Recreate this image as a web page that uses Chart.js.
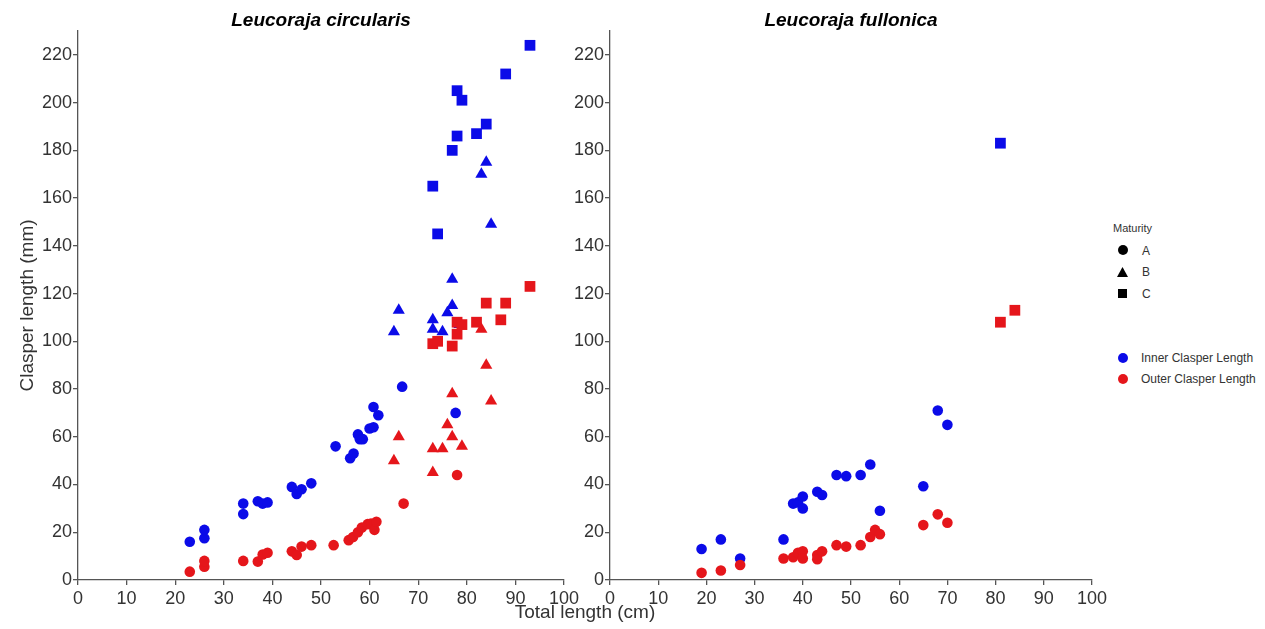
<!DOCTYPE html>
<html>
<head>
<meta charset="utf-8">
<script src="https://cdn.jsdelivr.net/npm/chart.js@4"></script>
<style>
body{margin:0;background:#fff;font-family:"Liberation Sans",Arial,sans-serif;}
#page{position:relative;width:1265px;height:629px;overflow:hidden;background:#fff;}
.box{position:absolute;top:0;height:629px;}
#boxLeft{left:0;width:585px;}
#boxRight{left:530px;width:580px;}
.lab{position:absolute;color:#333;white-space:nowrap;}
.mk{position:absolute;}
</style>
</head>
<body>
<div id="page">
  <div class="box" id="boxLeft"><canvas id="chartLeft"></canvas></div>
  <div class="box" id="boxRight"><canvas id="chartRight"></canvas></div>

  <div class="lab" style="left:585px;top:602px;font-size:19px;line-height:20px;transform:translateX(-50%);">Total length (cm)</div>

  <div class="lab" style="left:1113px;top:221px;font-size:11px;line-height:14px;">Maturity</div>
  <div class="mk" style="left:1118px;top:245px;width:10px;height:10px;border-radius:50%;background:#000;"></div>
  <div class="lab" style="left:1142px;top:244px;font-size:12px;line-height:14px;">A</div>
  <div class="mk" style="left:1117px;top:267px;width:11px;height:10px;background:#000;clip-path:polygon(50% 0,100% 100%,0 100%);"></div>
  <div class="lab" style="left:1142px;top:265px;font-size:12px;line-height:14px;">B</div>
  <div class="mk" style="left:1118px;top:289px;width:9px;height:9px;background:#000;"></div>
  <div class="lab" style="left:1142px;top:287px;font-size:12px;line-height:14px;">C</div>

  <div class="mk" style="left:1118px;top:353px;width:10px;height:10px;border-radius:50%;background:#0b0be8;"></div>
  <div class="lab" style="left:1141px;top:351px;font-size:12px;line-height:14px;">Inner Clasper Length</div>
  <div class="mk" style="left:1118px;top:374px;width:10px;height:10px;border-radius:50%;background:#e5161b;"></div>
  <div class="lab" style="left:1141px;top:372px;font-size:12px;line-height:14px;">Outer Clasper Length</div>
</div>

<script>
const fontFam = '"Liberation Sans", Arial, sans-serif';
const blue = '#0b0be8';
const red = '#e5161b';

const titles = ['Leucoraja circularis', 'Leucoraja fullonica'];
const yTitle = 'Clasper length (mm)';
const xRange = [0, 100];
const yRange = [0, 230];
const xStep = 10;
const yStep = 20;

// Leucoraja circularis  [total length cm, clasper mm]
const circInnerA = [[23,16],[26,17.5],[26,21],[34,27.6],[34,32],[37,33],[38,32],[39,32.5],[44,39],[45,36],[46,38],[48,40.5],
  [53,56],[56,51],[56.7,53],[57.6,61],[58,59],[58.6,59],[60,63.5],[60.8,64],[60.8,72.5],[61.8,69],[66.7,81],[77.7,70]];
const circInnerB = [[65,104],[66,113],[73,105],[73,109],[75,104],[76,112],[77,115],[77,126],[78.5,107],[83,170],[84,175],[85,149]];
const circInnerC = [[73,165],[74,145],[77,180],[78,186],[78,205],[79,201],[82,187],[84,191],[88,212],[93,224]];
const circOuterA = [[23,3.5],[26,5.6],[26,8],[34,8],[37,7.7],[38,10.7],[39,11.4],[44,12],[45,10.5],[46,14],[48,14.6],
  [52.6,14.6],[55.7,16.7],[56.6,18],[57.6,20],[58.4,22],[59.6,23.4],[60.3,23.7],[61,21],[61.4,24.4],[67,32],[78,44]];
const circOuterB = [[65,50],[66,60],[73,45],[73,55],[75,55],[76,65],[77,60],[77,78],[79,56],[83,105],[84,90],[85,75]];
const circOuterC = [[73,99],[74,100],[77,98],[78,103],[78,108],[79,107],[82,108],[84,116],[87,109],[88,116],[93,123]];

// Leucoraja fullonica
const fullInnerA = [[19,13],[23,17],[27,9],[36,17],[38,32],[39,32.5],[40,35],[40,30],[43,37],[44,35.6],[47,44],[49,43.5],
  [52,44],[54,48.4],[56,29],[65,39.3],[68,71],[70,65]];
const fullInnerB = [];
const fullInnerC = [[81,183]];
const fullOuterA = [[19,3],[23,4],[27,6.3],[36,9],[38,9.5],[39,11.4],[40,12],[40,9],[43,10.5],[43,8.7],[44,12],[47,14.6],
  [49,14],[52,14.6],[54,18],[55,21],[56,19.2],[65,23],[68,27.5],[70,24]];
const fullOuterB = [];
const fullOuterC = [[81,108],[84,113]];

function pts(arr){
    return arr.map(p => ({x:p[0], y:p[1]}));
}

function serie(arr, color, style){
    const radius = style === 'circle' ? 5.3 : (style === 'triangle' ? 7 : 7.6);
    return {
        data: pts(arr),
        pointStyle: style,
        pointRadius: radius,
        pointHoverRadius: radius,
        backgroundColor: color,
        borderColor: color,
        pointBorderWidth: 0
    };
}

// red first so it is drawn on top of blue
function montarSeries(inA, inB, inC, outA, outB, outC){
    return [
        serie(outC, red, 'rect'), serie(outB, red, 'triangle'), serie(outA, red, 'circle'),
        serie(inC, blue, 'rect'), serie(inB, blue, 'triangle'), serie(inA, blue, 'circle')
    ];
}

function criarGrafico(id, titulo, series, tituloY, larguraY, padDireita){
    return new Chart(document.getElementById(id), {
        type: 'scatter',
        data: {datasets: series},
        options: {
            responsive: true,
            maintainAspectRatio: false,
            animation: false,
            layout: {padding: {left: 0, right: padDireita, top: 0, bottom: 23}},
            plugins: {
                legend: {display: false},
                tooltip: {enabled: false},
                title: {
                    display: true,
                    text: titulo,
                    fullSize: false,
                    color: '#000',
                    font: {family: fontFam, size: 19, style: 'italic', weight: 'bold', lineHeight: 1},
                    padding: {top: 11, bottom: 1}
                }
            },
            scales: {
                x: {
                    type: 'linear',
                    min: xRange[0], max: xRange[1],
                    ticks: {stepSize: xStep, color: '#333', font: {family: fontFam, size: 18}, padding: 3, maxRotation: 0, autoSkip: false},
                    grid: {drawOnChartArea: false, drawTicks: true, tickLength: 5, color: '#555', lineWidth: 1.3},
                    border: {display: true, color: '#555', width: 1.3},
                    afterFit(s){ s.height = 26; }
                },
                y: {
                    type: 'linear',
                    min: yRange[0], max: yRange[1],
                    ticks: {stepSize: yStep, color: '#333', font: {family: fontFam, size: 18}, padding: 1, autoSkip: false},
                    grid: {drawOnChartArea: false, drawTicks: true, tickLength: 5, color: '#555', lineWidth: 1.3},
                    border: {display: true, color: '#555', width: 1.3},
                    title: {display: !!tituloY, text: tituloY, color: '#333', font: {family: fontFam, size: 19}, padding: {top: 16, bottom: 0}},
                    afterBuildTicks(s){ s.ticks = s.ticks.filter(t => t.value % yStep === 0); },
                    afterFit(s){ s.width = larguraY; }
                }
            }
        }
    });
}

criarGrafico('chartLeft', titles[0],
    montarSeries(circInnerA, circInnerB, circInnerC, circOuterA, circOuterB, circOuterC), yTitle, 78, 21);
criarGrafico('chartRight', titles[1],
    montarSeries(fullInnerA, fullInnerB, fullInnerC, fullOuterA, fullOuterB, fullOuterC), '', 80, 18);
</script>
</body>
</html>
